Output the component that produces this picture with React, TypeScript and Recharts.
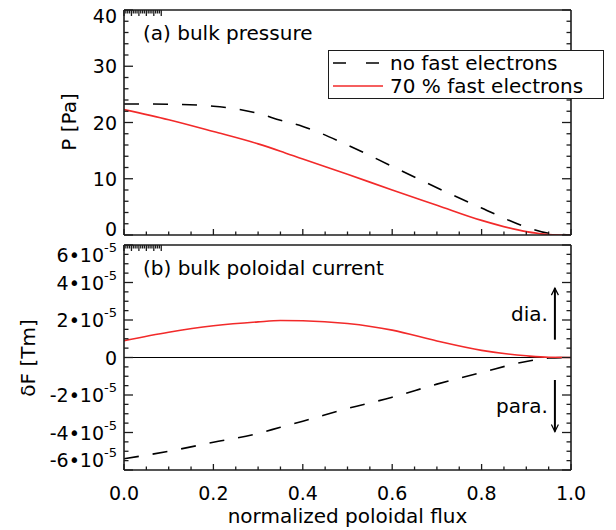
import { LineChart, Line, XAxis, YAxis, Legend, ReferenceLine } from 'recharts'

const FONT = '"DejaVu Sans", sans-serif'
const INK = '#1c1c1c'
const RED = '#f22a2a'

// normalized poloidal flux grid
const psi = [0, 0.1, 0.2, 0.3, 0.35, 0.4, 0.5, 0.6, 0.7, 0.8, 0.9, 0.95, 1.0]

// (a) bulk pressure [Pa]
const pressureNoFast = [23.3, 23.25, 22.9, 21.6, 20.4, 19.3, 16.0, 12.2, 8.4, 4.8, 1.4, 0.3, 0]
const pressureFast70 = [22.3, 20.5, 18.4, 16.2, 14.9, 13.5, 10.8, 8.0, 5.3, 2.6, 0.6, 0.1, 0]

// (b) bulk poloidal current dF [Tm]
const currentNoFast = [-5.4e-5, -5.0e-5, -4.52e-5, -4.05e-5, -3.72e-5, -3.4e-5, -2.72e-5, -2.12e-5, -1.42e-5, -0.8e-5, -0.21e-5, -0.03e-5, 0]
const currentFast70 = [0.9e-5, 1.35e-5, 1.69e-5, 1.9e-5, 1.97e-5, 1.96e-5, 1.81e-5, 1.46e-5, 0.88e-5, 0.38e-5, 0.09e-5, 0.01e-5, 0]

// axis ticks (majors get labels)
const xTicks = [0, 0.05, 0.1, 0.15, 0.2, 0.25, 0.3, 0.35, 0.4, 0.45, 0.5, 0.55, 0.6, 0.65, 0.7, 0.75, 0.8, 0.85, 0.9, 0.95, 1.0]
const pTicks = [0, 2, 4, 6, 8, 10, 12, 14, 16, 18, 20, 22, 24, 26, 28, 30, 32, 34, 36, 38, 40]
const fTicks = [
  -6e-5, -5.5e-5, -5e-5, -4.5e-5, -4e-5, -3.5e-5, -3e-5, -2.5e-5, -2e-5, -1.5e-5, -1e-5, -0.5e-5, 0,
  0.5e-5, 1e-5, 1.5e-5, 2e-5, 2.5e-5, 3e-5, 3.5e-5, 4e-5, 4.5e-5, 5e-5, 5.5e-5, 6e-5,
]

// arrow annotations in panel (b)
const arrowPsi = 0.964
const diaArrow = [0.95e-5, 3.7e-5]
const paraArrow = [-1.2e-5, -3.95e-5]

const series = [
  { key: 'noFast', name: 'no fast electrons', color: '#000', dash: '15 14', legendDash: '13 20' },
  { key: 'fast70', name: '70 % fast electrons', color: RED, dash: undefined, legendDash: undefined },
]

const pressureRows = psi.map((p, i) => ({ psi: p, noFast: pressureNoFast[i], fast70: pressureFast70[i] }))
const currentRows = psi.map((p, i) => ({ psi: p, noFast: currentNoFast[i], fast70: currentFast70[i] }))

const isMajorX = (v: number) => Math.round(v * 100) % 20 === 0

// IDL-style ticks: drawn inward, labels only on majors
function xTick(side: 'bottom' | 'top', withLabel: boolean) {
  return (props: any) => {
    const { x, y, payload } = props
    const v = payload.value
    const major = isMajorX(v)
    const len = major ? 6 : 3.5
    const dir = side === 'bottom' ? -1 : 1
    return (
      <g>
        <line x1={x} x2={x} y1={y} y2={y + dir * len} stroke={INK} strokeWidth={1.3} />
        {withLabel && major && (
          <text x={x} y={y + 23} textAnchor="middle" dominantBaseline="central" fontSize={19} fontFamily={FONT} fill="#000">
            {v.toFixed(1)}
          </text>
        )}
      </g>
    )
  }
}

function yTick(
  side: 'left' | 'right',
  isMajor: (v: number) => boolean,
  label: ((v: number) => any) | null,
  endShift: number,
  lo: number,
  hi: number,
) {
  return (props: any) => {
    const { x, y, payload } = props
    const v = payload.value
    const major = isMajor(v)
    const len = major ? 9 : 4.5
    const dir = side === 'left' ? 1 : -1
    let ty = y
    if (Math.abs(v - hi) < 1e-12) ty = y + endShift
    if (Math.abs(v - lo) < 1e-12) ty = y - endShift
    return (
      <g>
        <line x1={x} x2={x + dir * len} y1={y} y2={y} stroke={INK} strokeWidth={1.3} />
        {label && major && (
          <text x={x - 7} y={ty} textAnchor="end" dominantBaseline="central" fontSize={19} fontFamily={FONT} fill="#000">
            {label(v)}
          </text>
        )}
      </g>
    )
  }
}

const isMajorP = (v: number) => Math.round(v) % 10 === 0
const isMajorF = (v: number) => Math.round(v * 2e5) % 4 === 0
const labelP = (v: number) => String(v)
const labelF = (v: number) => {
  const k = Math.round(v * 1e5)
  if (k === 0) return '0'
  return (
    <>
      <tspan>{`${k}•10`}</tspan>
      <tspan dy={-8} fontSize={13}>-5</tspan>
    </>
  )
}

const arrowShape = (props: any) => {
  const { x1, y1, x2, y2 } = props
  const dir = y2 < y1 ? -1 : 1
  return (
    <g>
      <line x1={x1} y1={y1} x2={x2} y2={y2} stroke="#000" strokeWidth={2} />
      <path
        d={`M${x2 - 3.5},${y2 - dir * 7} L${x2},${y2} L${x2 + 3.5},${y2 - dir * 7}`}
        fill="none"
        stroke="#000"
        strokeWidth={1.2}
      />
    </g>
  )
}

function renderLegend() {
  return (
    <div
      style={{
        boxSizing: 'border-box',
        width: 276,
        height: 49,
        border: `1px solid ${INK}`,
        background: '#fff',
        fontFamily: FONT,
        fontSize: 20,
        color: '#000',
        position: 'relative',
      }}
    >
      {series.map((s, i) => (
        <div
          key={s.key}
          style={{ position: 'absolute', left: 4, top: 1 + i * 23, height: 22, display: 'flex', alignItems: 'center', whiteSpace: 'nowrap' }}
        >
          <svg width={50} height={4} style={{ display: 'block' }}>
            <line x1={0} x2={50} y1={2} y2={2} stroke={s.color} strokeWidth={1.6} strokeDasharray={s.legendDash} />
          </svg>
          <span style={{ marginLeft: 7, lineHeight: '22px' }}>{s.name}</span>
        </div>
      ))}
    </div>
  )
}

const axisLine = { stroke: INK, strokeWidth: 1.6 }

// shared props for the thin (1px) frame axes; a zero-size axis is not drawn
const frameX = {
  type: 'number' as const,
  domain: [0, 1],
  allowDataOverflow: true,
  ticks: xTicks,
  interval: 0,
  height: 1,
  tickSize: 0,
  tickMargin: 0,
  tickLine: false,
  axisLine,
}

export default function App() {
  return (
    <div style={{ position: 'absolute', left: 0, top: 0, width: 616, height: 530, background: '#fff' }}>
      <div style={{ position: 'absolute', left: 0, top: 0 }}>
        <LineChart width={616} height={245} data={pressureRows} margin={{ top: 9, right: 44, bottom: 9, left: 0 }}>
          <XAxis xAxisId="x" dataKey="psi" {...frameX} tick={xTick('bottom', false)} />
          <XAxis xAxisId="xt" orientation="top" {...frameX} tick={xTick('top', false)} />
          <YAxis
            yAxisId="y"
            type="number"
            domain={[0, 40]}
            allowDataOverflow
            ticks={pTicks}
            interval={0}
            width={124}
            tickSize={0}
            tickMargin={0}
            tickLine={false}
            axisLine={axisLine}
            tick={yTick('left', isMajorP, labelP, 6.3, 0, 40)}
          />
          <YAxis
            yAxisId="yr"
            orientation="right"
            type="number"
            domain={[0, 40]}
            allowDataOverflow
            ticks={pTicks}
            interval={0}
            width={1}
            tickSize={0}
            tickMargin={0}
            tickLine={false}
            axisLine={axisLine}
            tick={yTick('right', isMajorP, null, 0, 0, 40)}
          />
          {series.map((s) => (
            <Line
              key={s.key}
              xAxisId="x"
              yAxisId="y"
              dataKey={s.key}
              name={s.name}
              type="monotone"
              stroke={s.color}
              strokeWidth={1.6}
              strokeDasharray={s.dash}
              dot={false}
              isAnimationActive={false}
            />
          ))}
          <Legend
            layout="horizontal"
            verticalAlign="middle"
            align="center"
            content={renderLegend}
            wrapperStyle={{ left: 328, top: 50, width: 276, height: 49 }}
          />
        </LineChart>
      </div>

      <div style={{ position: 'absolute', left: 0, top: 240 }}>
        <LineChart width={616} height={290} data={currentRows} margin={{ top: 4, right: 44, bottom: 0, left: 0 }}>
          <XAxis xAxisId="x" dataKey="psi" {...frameX} height={60} tick={xTick('bottom', true)} />
          <XAxis xAxisId="xt" orientation="top" {...frameX} tick={xTick('top', false)} />
          <YAxis
            yAxisId="y"
            type="number"
            domain={[-6e-5, 6e-5]}
            allowDataOverflow
            ticks={fTicks}
            interval={0}
            width={124}
            tickSize={0}
            tickMargin={0}
            tickLine={false}
            axisLine={axisLine}
            tick={yTick('left', isMajorF, labelF, 10, -6e-5, 6e-5)}
          />
          <YAxis
            yAxisId="yr"
            orientation="right"
            type="number"
            domain={[-6e-5, 6e-5]}
            allowDataOverflow
            ticks={fTicks}
            interval={0}
            width={1}
            tickSize={0}
            tickMargin={0}
            tickLine={false}
            axisLine={axisLine}
            tick={yTick('right', isMajorF, null, 0, -6e-5, 6e-5)}
          />
          <ReferenceLine xAxisId="x" yAxisId="y" y={0} stroke="#000" strokeWidth={1} />
          {series.map((s) => (
            <Line
              key={s.key}
              xAxisId="x"
              yAxisId="y"
              dataKey={s.key}
              name={s.name}
              type="monotone"
              stroke={s.color}
              strokeWidth={1.6}
              strokeDasharray={s.dash}
              dot={false}
              isAnimationActive={false}
            />
          ))}
          <ReferenceLine
            xAxisId="x"
            yAxisId="y"
            segment={[
              { x: arrowPsi, y: diaArrow[0] },
              { x: arrowPsi, y: diaArrow[1] },
            ]}
            shape={arrowShape}
            label={{ value: 'dia.', position: 'left', offset: 7, fontSize: 20, fontFamily: FONT, fill: '#000' }}
          />
          <ReferenceLine
            xAxisId="x"
            yAxisId="y"
            segment={[
              { x: arrowPsi, y: paraArrow[0] },
              { x: arrowPsi, y: paraArrow[1] },
            ]}
            shape={arrowShape}
            label={{ value: 'para.', position: 'left', offset: 7, fontSize: 20, fontFamily: FONT, fill: '#000' }}
          />
        </LineChart>
      </div>

      <svg
        width={616}
        height={530}
        style={{ position: 'absolute', left: 0, top: 0, pointerEvents: 'none' }}
        fontFamily={FONT}
        fill="#000"
      >
        <text x={143} y={40} fontSize={20}>(a) bulk pressure</text>
        <text x={143} y={274.5} fontSize={20}>(b) bulk poloidal current</text>
        <text x={68.5} y={122} fontSize={20} textAnchor="middle" dominantBaseline="central" transform="rotate(-90 68.5 122)">
          P [Pa]
        </text>
        <text x={27.5} y={358} fontSize={20} textAnchor="middle" dominantBaseline="central" transform="rotate(-90 27.5 358)">
          δF [Tm]
        </text>
        <text x={347.5} y={523} fontSize={20} textAnchor="middle">normalized poloidal flux</text>
      </svg>
    </div>
  )
}
